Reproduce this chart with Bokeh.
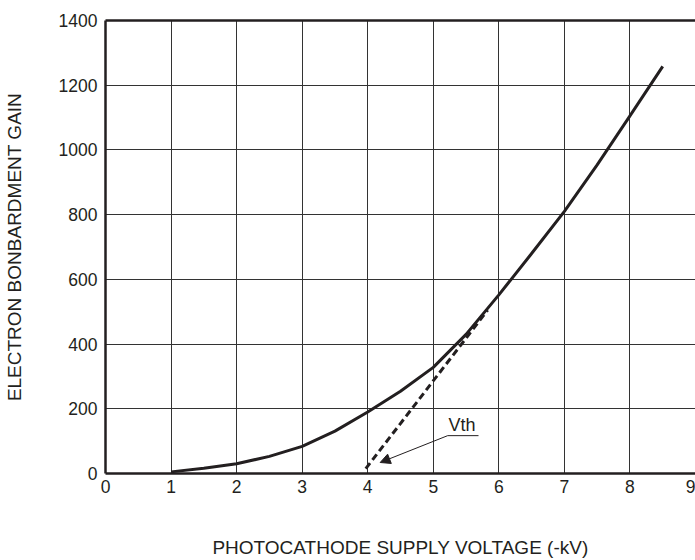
from bokeh.plotting import figure
from bokeh.models import Range1d, LinearAxis, FixedTicker, Arrow, NormalHead, Label
from bokeh.embed import file_html
from bokeh.resources import INLINE

# Data
voltage = [1, 1.5, 2, 2.5, 3, 3.5, 4, 4.5, 5, 5.5, 6, 6.5, 7, 7.5, 8, 8.5]
gain = [5, 16, 30, 53, 84, 131, 190, 254, 328, 430, 552, 680, 810, 954, 1105, 1258]
tangent_x = [3.97, 5.83]
tangent_y = [15, 505]
x_ticks = [0, 1, 2, 3, 4, 5, 6, 7, 8, 9]
y_ticks = [0, 200, 400, 600, 800, 1000, 1200, 1400]
vth_label = "Vth"
vth_text_pos = (5.44, 150)
vth_arrow_start = (5.22, 117)
vth_arrow_end = (4.19, 34)
vth_underline_end = 5.69

FONT = "Liberation Sans"
INK = "#231f20"

p = figure(width=695, height=560, output_backend="svg", toolbar_location=None,
           x_range=Range1d(0, 9), y_range=Range1d(0, 1400),
           min_border_left=105, min_border_right=0, min_border_top=20, min_border_bottom=87)
p.outline_line_color = None
p.background_fill_color = "white"

p.xaxis.ticker = FixedTicker(ticks=x_ticks)
p.yaxis.ticker = FixedTicker(ticks=y_ticks)
for ax in (p.xaxis[0], p.yaxis[0]):
    ax.axis_line_width = 2.5
    ax.axis_line_color = INK
    ax.major_tick_line_color = None
    ax.minor_tick_line_color = None
    ax.major_tick_out = 0
    ax.major_tick_in = 0
    ax.major_label_text_font = FONT
    ax.major_label_text_font_size = "17.5px"
    ax.major_label_text_color = INK
    ax.axis_label_text_font = FONT
    ax.axis_label_text_font_size = "19px"
    ax.axis_label_text_font_style = "normal"
    ax.axis_label_text_color = INK

p.xaxis.axis_label = "PHOTOCATHODE SUPPLY VOLTAGE (-kV)"
p.yaxis.axis_label = "ELECTRON BONBARDMENT GAIN"
p.xaxis.major_label_standoff = 6
p.yaxis.major_label_standoff = 8
p.xaxis.axis_label_standoff = 41
p.yaxis.axis_label_standoff = 31

top = LinearAxis(ticker=FixedTicker(ticks=[]), axis_line_width=2.5, axis_line_color=INK,
                 major_tick_line_color=None, minor_tick_line_color=None,
                 major_label_text_font_size="0px", major_label_standoff=0,
                 major_tick_out=0, major_tick_in=0)
p.add_layout(top, "above")

p.xgrid.ticker = FixedTicker(ticks=x_ticks[1:-1])
p.ygrid.ticker = FixedTicker(ticks=y_ticks[1:-1])
for g in (p.xgrid[0], p.ygrid[0]):
    g.grid_line_color = "#333333"
    g.grid_line_width = 1
    g.grid_line_alpha = 1

p.line(voltage, gain, line_width=3, line_color=INK, line_join="round")
p.line(tangent_x, tangent_y, line_width=3, line_color=INK, line_dash="7 4")

p.segment(x0=[vth_arrow_start[0]], y0=[vth_arrow_start[1]], x1=[vth_underline_end], y1=[vth_arrow_start[1]],
          line_color=INK, line_width=1)
p.add_layout(Arrow(end=NormalHead(size=10, fill_color=INK, line_color=INK, line_width=1),
                   x_start=vth_arrow_start[0], y_start=vth_arrow_start[1],
                   x_end=vth_arrow_end[0], y_end=vth_arrow_end[1],
                   line_color=INK, line_width=1))
p.add_layout(Label(x=vth_text_pos[0], y=vth_text_pos[1], text=vth_label, text_font=FONT,
                   text_font_size="18px", text_color=INK, text_align="center", text_baseline="middle"))

open("out.html", "w").write(file_html(p, INLINE))
